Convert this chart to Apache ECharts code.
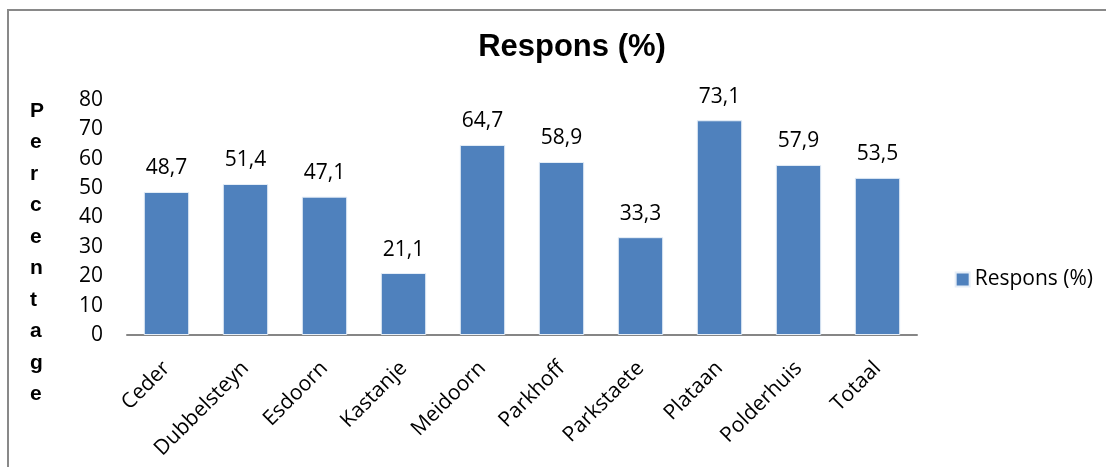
<!DOCTYPE html>
<html>
<head>
<meta charset="utf-8">
<script src="https://cdn.jsdelivr.net/npm/echarts@6/dist/echarts.min.js"></script>
<style>
  html, body { margin: 0; padding: 0; background: #fff; }
  #chart { width: 1106px; height: 467px; }
</style>
</head>
<body>
<div id="chart"></div>
<script>
const categories = ['Ceder', 'Dubbelsteyn', 'Esdoorn', 'Kastanje', 'Meidoorn', 'Parkhoff', 'Parkstaete', 'Plataan', 'Polderhuis', 'Totaal'];
const respons = [48.7, 51.4, 47.1, 21.1, 64.7, 58.9, 33.3, 73.1, 57.9, 53.5];
const yTicks = { min: 0, max: 80, interval: 10 };
const yTitle = 'Percentage';

const chart = echarts.init(document.getElementById('chart'));

const labelFont = '"Open Sans", "Noto Sans", sans-serif';

const option = {
  backgroundColor: '#fff',
  animation: false,
  title: {
    text: 'Respons (%)',
    left: 567,
    top: 27,
    textAlign: 'center',
    textStyle: {
      fontFamily: 'Arial, "Liberation Sans", sans-serif',
      fontWeight: 'bold',
      fontSize: 31,
      color: '#000'
    }
  },
  legend: {
    right: 8,
    top: 264,
    itemWidth: 14,
    itemHeight: 14,
    icon: 'rect',
    itemGap: 6,
    textStyle: { fontFamily: labelFont, fontSize: 21, color: '#000' },
    data: ['Respons (%)']
  },
  grid: { left: 127, right: 189, top: 100, bottom: 132 },
  xAxis: {
    type: 'category',
    data: categories,
    axisLine: { lineStyle: { color: '#868686', width: 2 } },
    axisTick: { show: false },
    axisLabel: {
      rotate: 45,
      interval: 0,
      margin: 30,
      fontFamily: labelFont,
      fontSize: 21,
      color: '#000'
    }
  },
  yAxis: {
    type: 'value',
    min: yTicks.min,
    max: yTicks.max,
    interval: yTicks.interval,
    axisLine: { show: false },
    axisTick: { show: false },
    splitLine: { show: false },
    axisLabel: {
      margin: 24,
      fontFamily: labelFont,
      fontSize: 21,
      color: '#000'
    }
  },
  graphic: [
    {
      type: 'rect',
      shape: { x: 8, y: 10, width: 1110, height: 470 },
      style: { fill: 'none', stroke: '#898989', lineWidth: 2 },
      silent: true
    },
    {
      // vertical axis title, one letter per line
      type: 'text',
      left: 30,
      top: 95,
      style: {
        text: yTitle.split('').join('\n'),
        fontFamily: 'Arial, "Liberation Sans", sans-serif',
        fontWeight: 'bold',
        fontSize: 21,
        lineHeight: 31.5,
        fill: '#000',
        align: 'center'
      }
    }
  ],
  series: [
    {
      name: 'Respons (%)',
      type: 'bar',
      data: respons,
      barWidth: '57.5%',
      itemStyle: { color: '#4F81BD', borderColor: '#e6eef7', borderWidth: 1 },
      label: {
        show: true,
        position: 'top',
        distance: 13,
        formatter: p => String(p.value).replace('.', ','),
        fontFamily: labelFont,
        fontSize: 21,
        color: '#000'
      }
    }
  ]
};

chart.setOption(option);
</script>
</body>
</html>
